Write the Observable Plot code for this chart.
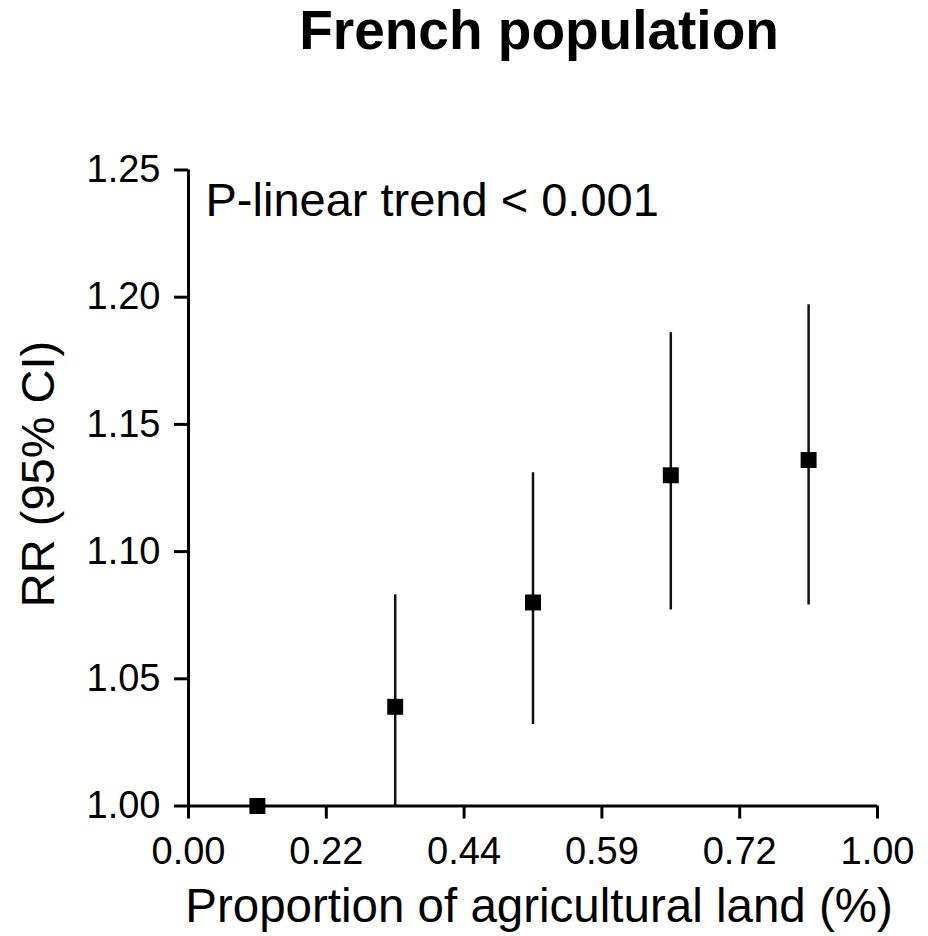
<!DOCTYPE html>
<html>
<head>
<meta charset="utf-8">
<script src="https://cdn.jsdelivr.net/npm/d3@7"></script>
<script src="https://cdn.jsdelivr.net/npm/@observablehq/plot@0.6"></script>
<style>
  html, body { margin: 0; padding: 0; background: #fff; }
  #chart { width: 928px; font-family: "Liberation Sans", Arial, sans-serif; color: #000; }
  #title {
    height: 100px; box-sizing: border-box;
    padding: 3px 0 0 150px; text-align: center;
    font: bold 55px/1 "Liberation Sans", Arial, sans-serif;
  }
</style>
</head>
<body>
<div id="chart">
  <div id="title">French population</div>
</div>
<script>
// Quintile cut-points of agricultural land share (tick labels at category edges)
const quintileEdges = ["0.00", "0.22", "0.44", "0.59", "0.72", "1.00"];
// Quintile number of each estimate
const quintiles = [1, 2, 3, 4, 5];
// Relative risk and its 95% confidence interval per quintile
const rr = [1.000, 1.039, 1.080, 1.130, 1.136];
const ciLow = [1.000, 1.000, 1.032, 1.077, 1.079];
const ciHigh = [1.000, 1.083, 1.131, 1.186, 1.197];
// Y axis ticks
const yTicks = [1.00, 1.05, 1.10, 1.15, 1.20, 1.25];

const annotation = "P-linear trend < 0.001";
const xLabel = "Proportion of agricultural land (%)";
const yLabel = "RR (95% CI)";

const rows = quintiles.map((q, i) => ({q, rr: rr[i], lo: ciLow[i], hi: ciHigh[i]}));
const xPos = d => d.q - 0.5; // centre of each quintile band

const plot = Plot.plot({
  width: 928,
  height: 836,
  marginTop: 69.5,
  marginBottom: 130.5,
  marginLeft: 188,
  marginRight: 51,
  style: {fontFamily: "'Liberation Sans', Arial, sans-serif", color: "#000", background: "#fff"},
  x: {domain: [0, quintileEdges.length - 1]},
  y: {domain: [yTicks[0], yTicks[yTicks.length - 1]]},
  marks: [
    Plot.axisX({
      ticks: d3.range(quintileEdges.length),
      tickFormat: i => quintileEdges[i],
      tickSize: 13, tickPadding: 18, fontSize: 38, strokeWidth: 3, label: null
    }),
    Plot.axisY({
      ticks: yTicks, tickFormat: ".2f",
      tickSize: 14, tickPadding: 14, fontSize: 38, strokeWidth: 3, label: null
    }),
    Plot.ruleX([0], {stroke: "#000", strokeWidth: 3}),
    Plot.ruleY([yTicks[0]], {stroke: "#000", strokeWidth: 3}),
    Plot.ruleX(rows, {x: xPos, y1: "lo", y2: "hi", stroke: "#111", strokeWidth: 2.5}),
    Plot.dot(rows, {x: xPos, y: "rr", symbol: "square", r: 9, fill: "#000", stroke: "none"}),
    Plot.text([annotation], {
      frameAnchor: "top-left", dx: 17, dy: 13, lineAnchor: "top",
      textAnchor: "start", fontSize: 47, fill: "#000"
    }),
    Plot.text([xLabel], {
      frameAnchor: "bottom", dx: 6, dy: 116, lineAnchor: "bottom",
      textAnchor: "middle", fontSize: 47.5, fill: "#000"
    }),
    Plot.text([yLabel], {
      frameAnchor: "left", dx: -150, dy: -14, rotate: -90,
      textAnchor: "middle", lineAnchor: "middle",
      fontSize: 47, fill: "#000"
    })
  ]
});
document.getElementById("chart").appendChild(plot);
</script>
</body>
</html>
